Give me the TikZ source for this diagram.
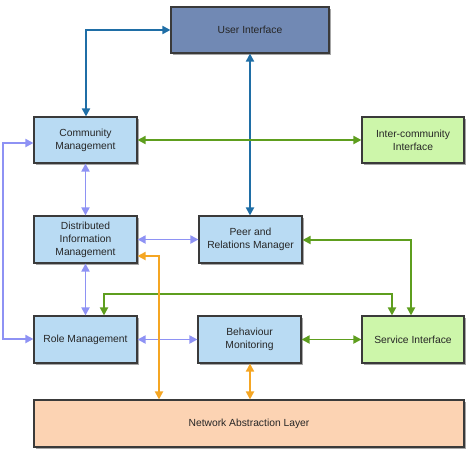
\documentclass[tikz,border=0pt]{standalone}
\usepackage{fontspec}
\setmainfont{Liberation Sans}
\usetikzlibrary{arrows.meta,shadows}
\definecolor{uifill}{HTML}{7189B4}
\definecolor{bluefill}{HTML}{B9DBF3}
\definecolor{greenfill}{HTML}{CDF6AA}
\definecolor{orangefill}{HTML}{FCD3B3}
\definecolor{darkblue}{HTML}{1F6EA6}
\definecolor{lilac}{HTML}{8E92F4}
\definecolor{grn}{HTML}{5E9E1E}
\definecolor{orng}{HTML}{F5A623}
\definecolor{boxline}{HTML}{3A3A3A}
\begin{document}
\begin{tikzpicture}[x=1pt,y=-1pt,
  box/.style={draw=boxline,line width=1.1pt,align=center,font=\fontsize{10.3}{13}\selectfont,text=black!85,
    inner sep=0pt,drop shadow={shadow xshift=1.5pt,shadow yshift=-2pt,opacity=0.35,fill=black}},
  conn/.style={line width=1.8pt,{Triangle[length=8pt,width=8pt]}-{Triangle[length=8pt,width=8pt]}},
]
\useasboundingbox (0,0) rectangle (474,461);
\node[box,fill=uifill,minimum width=158pt,minimum height=46pt] (ui) at (250,30) {User Interface};
\node[box,fill=bluefill,minimum width=103pt,minimum height=46pt] (cm) at (85.5,140) {Community\\Management};
\node[box,fill=greenfill,minimum width=102pt,minimum height=46pt] (ici) at (413,140) {Inter-community\\Interface};
\node[box,fill=bluefill,minimum width=103pt,minimum height=47pt] (dim) at (85.5,239.5) {Distributed\\Information\\Management};
\node[box,fill=bluefill,minimum width=103pt,minimum height=47pt] (prm) at (250.5,239.5) {Peer and\\Relations Manager};
\node[box,fill=bluefill,minimum width=103pt,minimum height=47pt] (rm) at (85.5,339.5) {Role Management};
\node[box,fill=bluefill,minimum width=103pt,minimum height=47pt] (bm) at (249.5,339.5) {Behaviour\\Monitoring};
\node[box,fill=greenfill,minimum width=102pt,minimum height=47pt] (si) at (413,339.5) {Service Interface};
\node[box,fill=orangefill,minimum width=430pt,minimum height=47pt] (nal) at (249,423.5) {Network Abstraction Layer};
\coordinate (c1) at (86,30);
\coordinate (l1) at (3,143);
\coordinate (l2) at (3,339);
\coordinate (o1) at (159,256);
\coordinate (g1) at (411,240);
\coordinate (g2) at (104,294);
\coordinate (g3) at (392,294);
\draw[conn,darkblue] (ui.west |- c1) -- (c1) -- (cm.north -| c1);
\draw[conn,darkblue] (ui.south -| 250,0) -- (prm.north -| 250,0);
\draw[conn,grn] (cm.east) -- (ici.west);
\draw[conn,grn] (prm.east |- g1) -- (g1) -- (si.north -| g1);
\draw[conn,grn] (rm.north -| g2) -- (g2) -- (g3) -- (si.north -| g3);
\draw[conn,grn] (bm.east) -- (si.west);
\draw[conn,lilac] (cm.south) -- (dim.north);
\draw[conn,lilac] (dim.south) -- (rm.north);
\draw[conn,lilac] (dim.east) -- (prm.west);
\draw[conn,lilac] (rm.east) -- (bm.west);
\draw[conn,lilac] (cm.west |- l1) -- (l1) -- (l2) -- (rm.west |- l2);
\draw[conn,orng] (dim.east |- o1) -- (o1) -- (nal.north -| o1);
\draw[conn,orng] (bm.south -| 250,0) -- (nal.north -| 250,0);
\end{tikzpicture}
\end{document}
